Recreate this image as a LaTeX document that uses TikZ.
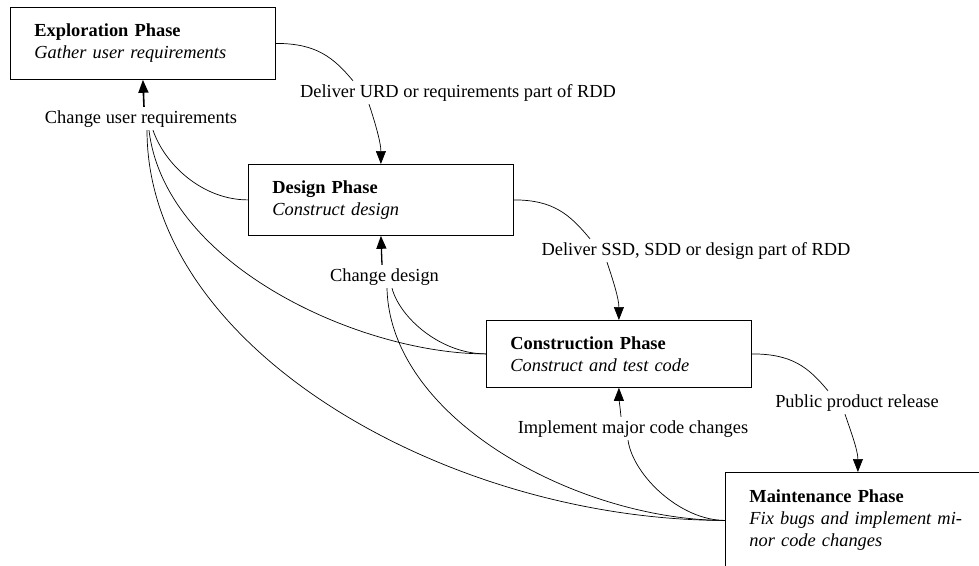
\documentclass[tikz,border=0pt]{standalone}
\usepackage{fontspec}
\setmainfont{Liberation Serif}
\usetikzlibrary{arrows.meta,calc}

\tikzset{
  phasebox/.style={draw=black, line width=0.8pt, rectangle, anchor=north west,
    text width=217pt, inner xsep=24pt, inner ysep=0pt, align=left,
    font=\fontsize{18.4}{22}\selectfont},
  flowlabel/.style={inner xsep=0pt, inner ysep=3pt, text height=13pt, text depth=4pt,
    font=\fontsize{18.4}{22}\selectfont},
  wire/.style={line width=0.7pt},
  arrowed/.style={-{Triangle[length=13pt,width=10pt]}},
}

\begin{document}
\begin{tikzpicture}[x=1pt,y=1pt]
\useasboundingbox (0,0) rectangle (979,-565);
\clip (0,0) rectangle (979,-565);

% phases
\node[phasebox, minimum height=72pt] (exp) at (10,-7)
  {\textbf{Exploration Phase}\\\textit{Gather user requirements}};
\node[phasebox, minimum height=71pt] (des) at (248,-164)
  {\textbf{Design Phase}\\\textit{Construct design}};
\node[phasebox, minimum height=67pt] (con) at (486,-320)
  {\textbf{Construction Phase}\\\textit{Construct and test code}};
\node[phasebox, minimum height=96pt] (mnt) at (725,-472)
  {\textbf{Maintenance Phase}\\\textit{Fix bugs and implement mi-}\\\textit{nor code changes}};

% edge labels
\node[flowlabel] (lURD) at (458,-92.5) {Deliver URD or requirements part of RDD};
\node[flowlabel] (lCUR) at (141,-118.5) {Change user requirements};
\node[flowlabel] (lCD)  at (384.5,-276.5) {Change design};
\node[flowlabel] (lSSD) at (696,-250.5) {Deliver SSD, SDD or design part of RDD};
\node[flowlabel] (lPPR) at (857,-402.5) {Public product release};
\node[flowlabel] (lIMC) at (633,-428.5) {Implement major code changes};

% forward deliveries
\draw[wire] (exp.east) .. controls +(40,0) and +(-20,24) .. ([xshift=-105pt]lURD.north);
\draw[wire,arrowed] ([xshift=-89pt]lURD.south) .. controls +(5,-15) and +(0,22) .. (des.north);

\draw[wire] (des.east) .. controls +(40,0) and +(-20,24) .. ([xshift=-106pt]lSSD.north);
\draw[wire,arrowed] ([xshift=-89pt]lSSD.south) .. controls +(5,-15) and +(0,22) .. (con.north);

\draw[wire] (con.east) .. controls +(40,0) and +(-20,24) .. ([xshift=-29pt]lPPR.north);
\draw[wire,arrowed] ([xshift=-12pt]lPPR.south) .. controls +(5,-15) and +(0,22) .. (mnt.north);

% feedback into the label points
\draw[wire] (des.west) .. controls +(-45,0) and +(12,-35) .. ([xshift=12pt]lCUR.south);
\draw[wire] (con.west) .. controls +(-126,0) and +(16,-135) .. ([xshift=8pt]lCUR.south);
\draw[wire] (mnt.west) .. controls +(-275,0) and +(0,-220) .. ([xshift=6pt]lCUR.south);
\draw[wire] (con.west) .. controls +(-45,0) and +(8,-30) .. ([xshift=7.5pt]lCD.south);
\draw[wire] (mnt.west) .. controls +(-145,0) and +(3,-132) .. ([xshift=2.5pt]lCD.south);
\draw[wire] (mnt.west) .. controls +(-45,0) and +(5,-35) .. ([xshift=-5pt]lIMC.south);

% feedback arrows
\draw[line width=1.6pt,arrowed] ([xshift=3pt]lCUR.north) -- (exp.south);
\draw[line width=1.3pt,arrowed] ([xshift=-2.5pt]lCD.north) -- (des.south);
\draw[wire,arrowed] ([xshift=-12pt]lIMC.north) .. controls +(-1,10) and +(0,-10) .. (con.south);
\end{tikzpicture}
\end{document}
